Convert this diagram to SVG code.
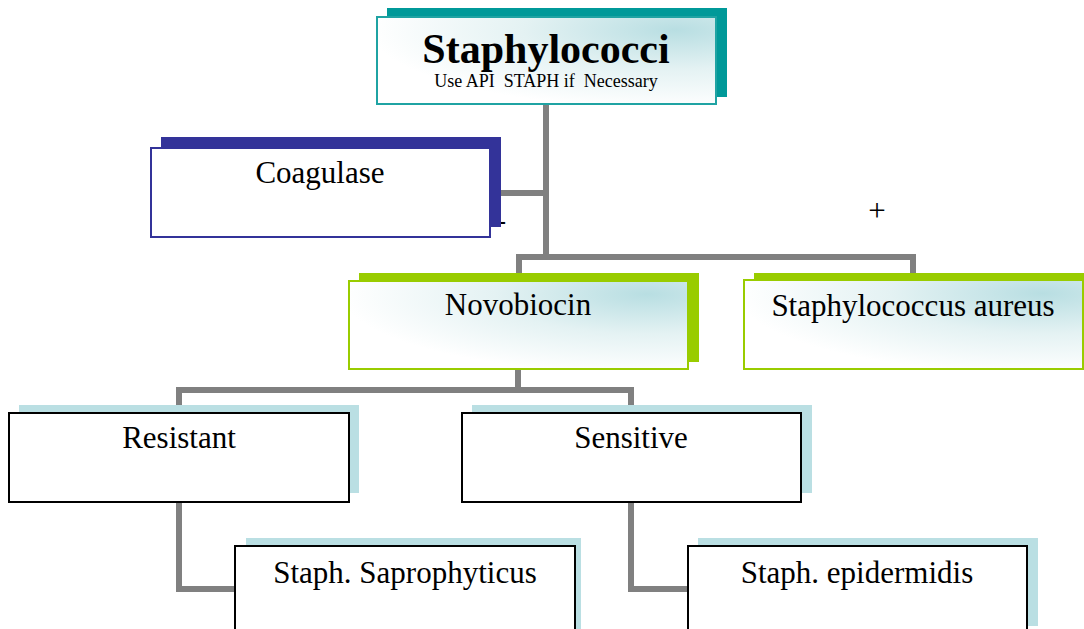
<svg xmlns="http://www.w3.org/2000/svg" width="1084" height="629" viewBox="0 0 1084 629">
<style>
.conn{fill:none;stroke:#808080;stroke-width:6;stroke-linejoin:miter;stroke-linecap:butt}
.lbl{font-family:"Liberation Serif","Times New Roman",serif;font-size:31px;fill:#000;text-anchor:middle}
.title{font-family:"Liberation Serif","Times New Roman",serif;font-size:42px;font-weight:bold;fill:#000;text-anchor:middle}
.sub{font-family:"Liberation Serif","Times New Roman",serif;font-size:18px;fill:#000;text-anchor:middle;white-space:pre}
.shTeal{fill:#009999}
.shBlue{fill:#333399}
.shGreen{fill:#99CC00}
.shLight{fill:#BADFE3}
.frTeal{fill:url(#glow);stroke:#1FA3A3;stroke-width:2}
.frBlue{fill:#fff;stroke:#333399;stroke-width:2}
.frGreen{fill:url(#glow);stroke:#99CC00;stroke-width:2}
.frBlack{fill:#fff;stroke:#000;stroke-width:2}
</style>
<defs>
<radialGradient id="glow" cx="0.88" cy="0.15" r="0.9" fx="0.88" fy="0.15">
<stop offset="0" stop-color="#B8DEE2"/>
<stop offset="0.5" stop-color="#E4F2F3"/>
<stop offset="1" stop-color="#FFFFFF"/>
</radialGradient>
</defs>
<rect width="1084" height="629" fill="#fff"/>
<g id="connectors">
<path class="conn" d="M546,104 V257"/>
<path class="conn" d="M501,193 H546"/>
<path class="conn" d="M519,273 V257 H913 V273"/>
<path class="conn" d="M518,369 V390"/>
<path class="conn" d="M179,405 V390 H631 V405"/>
<path class="conn" d="M179,502 V589 H235"/>
<path class="conn" d="M631,502 V589 H688"/>
</g>
<g id="node-staphylococci">
<rect class="shTeal" x="387" y="8" width="340" height="89"/>
<rect class="frTeal" x="377" y="17" width="339" height="87"/>
<text class="title" x="546" y="63">Staphylococci</text>
<text class="sub" x="546" y="87" xml:space="preserve">Use API  STAPH if  Necessary</text>
</g>
<g id="node-coagulase">
<text x="506" y="229" font-family="Liberation Serif,serif" font-size="28" text-anchor="end">-</text>
<rect class="shBlue" x="161" y="137" width="340" height="90"/>
<rect class="frBlue" x="151" y="148" width="339" height="89"/>
<text class="lbl" x="320" y="183">Coagulase</text>
</g>
<g id="plus-label">
<text class="lbl" x="877" y="221" font-size="26">+</text>
</g>
<g id="node-novobiocin">
<rect class="shGreen" x="359" y="273" width="340" height="89"/>
<rect class="frGreen" x="349" y="281" width="339" height="88"/>
<text class="lbl" x="518" y="315">Novobiocin</text>
</g>
<g id="node-aureus">
<rect class="shGreen" x="754" y="273" width="340" height="89"/>
<rect class="frGreen" x="744" y="280" width="339" height="89"/>
<text class="lbl" x="913" y="316">Staphylococcus aureus</text>
</g>
<g id="node-resistant">
<rect class="shLight" x="19" y="405" width="340" height="88"/>
<rect class="frBlack" x="9" y="413" width="340" height="89"/>
<text class="lbl" x="179" y="448">Resistant</text>
</g>
<g id="node-sensitive">
<rect class="shLight" x="472" y="405" width="340" height="88"/>
<rect class="frBlack" x="462" y="413" width="339" height="89"/>
<text class="lbl" x="631" y="448">Sensitive</text>
</g>
<g id="node-saprophyticus">
<rect class="shLight" x="246" y="538" width="335" height="100"/>
<rect class="frBlack" x="235" y="546" width="340" height="100"/>
<text class="lbl" x="405" y="583">Staph. Saprophyticus</text>
</g>
<g id="node-epidermidis">
<rect class="shLight" x="698" y="538" width="340" height="88"/>
<rect class="frBlack" x="688" y="546" width="339" height="100"/>
<text class="lbl" x="857" y="583">Staph. epidermidis</text>
</g>
</svg>
